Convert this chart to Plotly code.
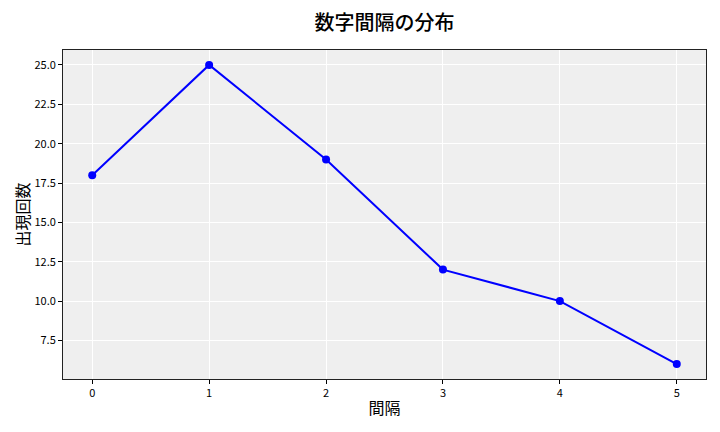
import plotly.graph_objects as go

# data
gaps = [0, 1, 2, 3, 4, 5]
counts = [18, 25, 19, 12, 10, 6]
y_ticks = [7.5, 10.0, 12.5, 15.0, 17.5, 20.0, 22.5, 25.0]

FONT = "Noto Sans CJK JP"

# page body has an 8px margin, so the figure is a bit smaller than the window
fig = go.Figure(
	data=[go.Scatter(
		x=gaps,
		y=counts,
		mode="lines+markers",
		line=dict(color="blue", width=2),
		marker=dict(color="blue", size=8),
		showlegend=False,
	)],
	layout=go.Layout(
		width=712, height=424,
		margin=dict(l=55, r=14, t=42, b=53),
		paper_bgcolor="white",
		plot_bgcolor="#efefef",
		font=dict(family=FONT, color="black"),
		title=dict(text="数字間隔の分布", xref="paper", x=0.5, xanchor="center",
			yref="container", y=0.965, yanchor="middle",
			font=dict(size=20, family="Noto Sans CJK JP Medium, " + FONT)),
		xaxis=dict(
			range=[-0.25, 5.25],
			tickmode="array", tickvals=gaps, ticktext=[str(g) for g in gaps],
			tickfont=dict(size=11),
			ticks="outside", ticklen=4, tickcolor="black",
			showgrid=True, gridcolor="white", gridwidth=1,
			zeroline=False,
			showline=True, linecolor="#222", linewidth=1, mirror=True,
			title=dict(text="間隔", font=dict(size=16), standoff=3),
		),
		yaxis=dict(
			range=[5.05, 25.95],
			tickmode="array", tickvals=y_ticks, ticktext=[f"{v:.1f}" for v in y_ticks],
			tickfont=dict(size=11),
			ticks="outside", ticklen=4, tickcolor="black",
			showgrid=True, gridcolor="white", gridwidth=1,
			zeroline=False,
			showline=True, linecolor="#222", linewidth=1, mirror=True,
			title=dict(text="出現回数", font=dict(size=16), standoff=0),
		),
	),
)

fig.write_html("out.html")
